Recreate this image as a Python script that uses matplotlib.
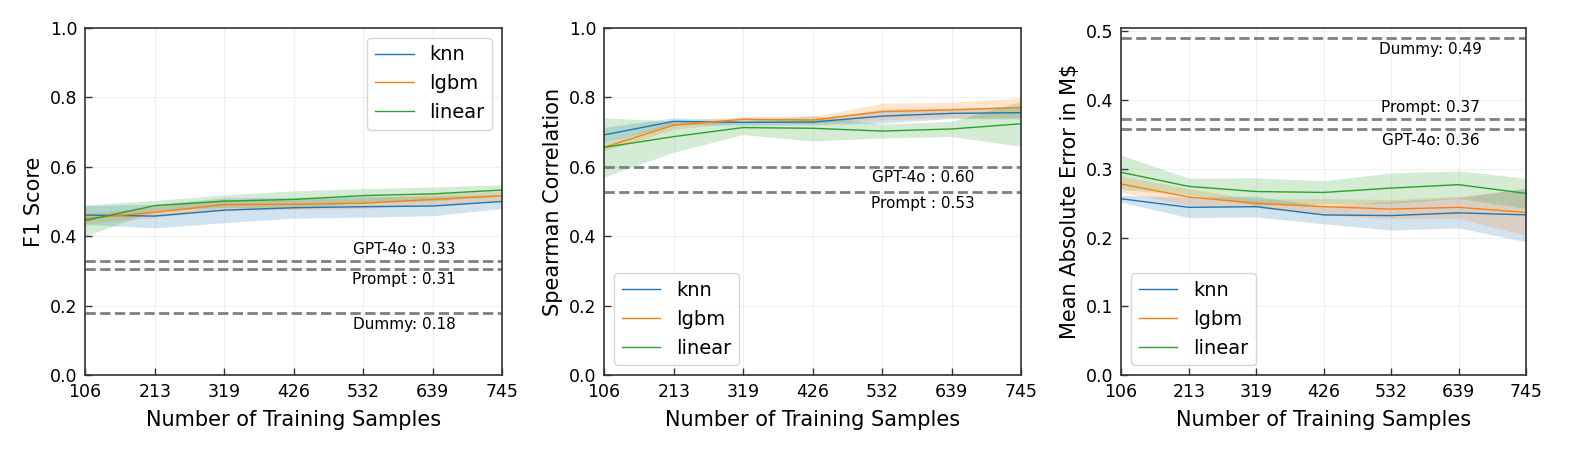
import numpy as np
import matplotlib
matplotlib.use("Agg")
import matplotlib.pyplot as plt

x_samples = [106, 213, 319, 426, 532, 639, 745]
models = ["knn", "lgbm", "linear"]
colors = ["#1f77b4", "#ff7f0e", "#2ca02c"]

# F1 score
f1_mean = {
    "knn":    [0.461, 0.458, 0.475, 0.482, 0.485, 0.487, 0.500],
    "lgbm":   [0.451, 0.469, 0.491, 0.492, 0.495, 0.506, 0.516],
    "linear": [0.445, 0.488, 0.501, 0.506, 0.517, 0.522, 0.533],
}
f1_std = {
    "knn":    [0.027, 0.034, 0.036, 0.030, 0.030, 0.028, 0.020],
    "lgbm":   [0.015, 0.015, 0.015, 0.015, 0.015, 0.015, 0.015],
    "linear": [0.045, 0.015, 0.018, 0.025, 0.020, 0.020, 0.015],
}
f1_refs = [("GPT-4o : 0.33", 0.329, 1), ("Prompt : 0.31", 0.306, -1), ("Dummy: 0.18", 0.178, -1)]

# Spearman correlation
sp_mean = {
    "knn":    [0.692, 0.731, 0.728, 0.729, 0.746, 0.754, 0.756],
    "lgbm":   [0.656, 0.720, 0.737, 0.735, 0.759, 0.764, 0.771],
    "linear": [0.656, 0.687, 0.713, 0.711, 0.703, 0.709, 0.724],
}
sp_std = {
    "knn":    [0.022, 0.010, 0.008, 0.008, 0.020, 0.015, 0.018],
    "lgbm":   [0.010, 0.012, 0.008, 0.010, 0.024, 0.022, 0.028],
    "linear": [0.085, 0.045, 0.020, 0.037, 0.020, 0.022, 0.065],
}
sp_refs = [("GPT-4o : 0.60", 0.600, -1), ("Prompt : 0.53", 0.527, -1)]

# Mean absolute error
mae_mean = {
    "knn":    [0.2565, 0.244, 0.245, 0.233, 0.232, 0.236, 0.233],
    "lgbm":   [0.278, 0.259, 0.250, 0.245, 0.2415, 0.244, 0.2366],
    "linear": [0.295, 0.2745, 0.267, 0.2657, 0.272, 0.277, 0.2643],
}
mae_std = {
    "knn":    [0.005, 0.015, 0.015, 0.013, 0.021, 0.022, 0.039],
    "lgbm":   [0.012, 0.012, 0.006, 0.012, 0.014, 0.016, 0.034],
    "linear": [0.025, 0.012, 0.020, 0.017, 0.022, 0.020, 0.022],
}
mae_refs = [("Dummy: 0.49", 0.490, -1), ("Prompt: 0.37", 0.373, 1), ("GPT-4o: 0.36", 0.358, -1)]

panels = [
    (f1_mean, f1_std, f1_refs, "F1 Score", (0, 1.0), np.arange(0, 1.01, 0.2), "upper right"),
    (sp_mean, sp_std, sp_refs, "Spearman Correlation", (0, 1.0), np.arange(0, 1.01, 0.2), "lower left"),
    (mae_mean, mae_std, mae_refs, "Mean Absolute Error in M$", (0, 0.505), np.arange(0, 0.51, 0.1), "lower left"),
]

W, H = 1578, 451
fig = plt.figure(figsize=(W / 100, H / 100), dpi=100)
boxes = [(85, 417), (604, 417), (1121, 405)]
top_px, bot_px = 28, 375

for (mean, std, refs, ylabel, ylim, yticks, legloc), (lpx, wpx) in zip(panels, boxes):
    ax = fig.add_axes([lpx / W, (H - bot_px) / H, wpx / W, (bot_px - top_px) / H])
    for m, c in zip(models, colors):
        mu = np.array(mean[m])
        sd = np.array(std[m])
        ax.plot(x_samples, mu, color=c, lw=1.0, label=m)
        ax.fill_between(x_samples, mu - sd, mu + sd, color=c, alpha=0.2, lw=0)
    for txt, val, side in refs:
        ax.axhline(val, color="gray", ls="--", lw=2)
        ax.annotate(txt, xy=(0.765, val), xycoords=("axes fraction", "data"),
                    xytext=(0, 8 * side), textcoords="offset points",
                    ha="center", va="center", fontsize=11)
    ax.set_xlim(106, 745)
    ax.set_ylim(*ylim)
    ax.set_xticks(x_samples)
    ax.set_yticks(yticks)
    ax.set_yticklabels([f"{t:.1f}" for t in yticks])
    ax.grid(True, color="#e6e6e6", lw=0.8, alpha=0.6)
    ax.set_axisbelow(True)
    ax.tick_params(axis="both", direction="in", length=5, width=1, labelsize=12.5,
                   color="#333333", pad=5.5)
    for s in ax.spines.values():
        s.set_color("#333333")
        s.set_linewidth(1.2)
    ax.set_xlabel("Number of Training Samples", fontsize=15, labelpad=6.5)
    ax.set_ylabel(ylabel, fontsize=15, labelpad=4)
    ax.legend(loc=legloc, fontsize=14, framealpha=0.8)

fig.savefig("out.png", dpi=100)
